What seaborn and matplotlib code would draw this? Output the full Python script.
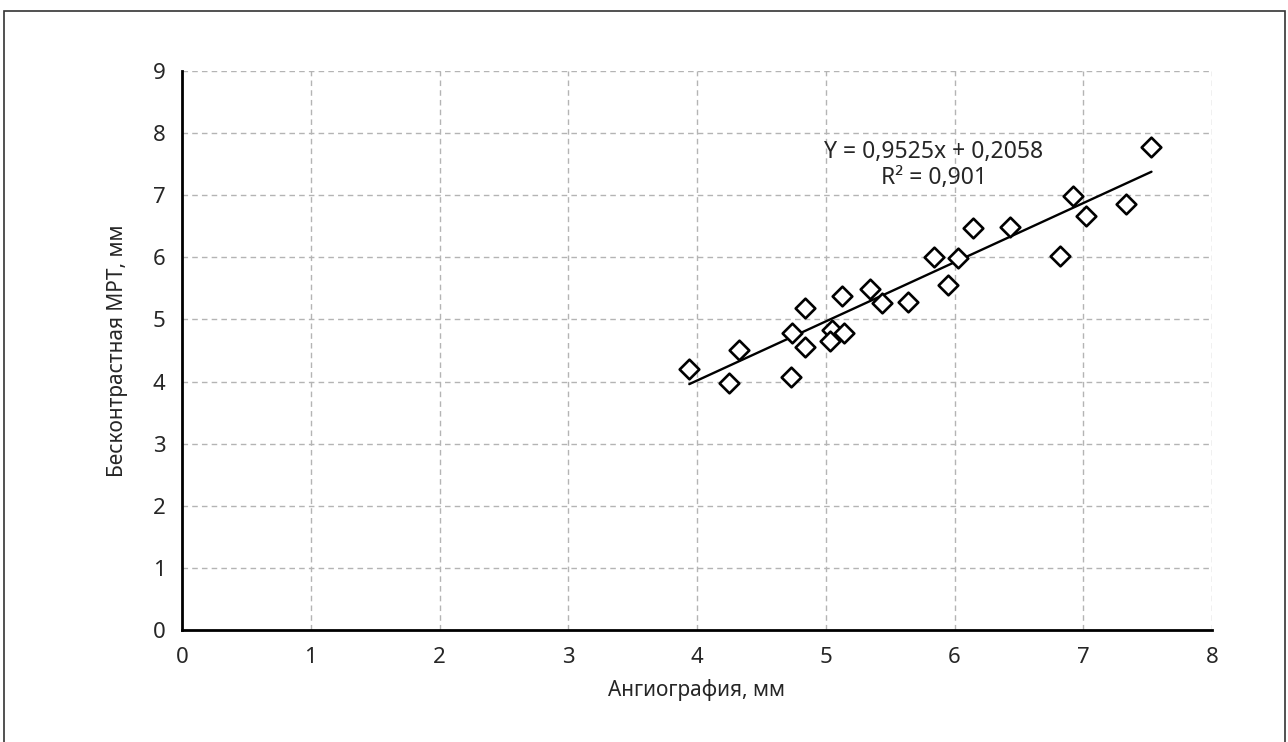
import numpy as np
import pandas as pd
import matplotlib
matplotlib.use('Agg')
import matplotlib.pyplot as plt
from matplotlib.patches import Rectangle
import seaborn as sns

# values
angio_mm = [3.94, 4.25, 4.33, 4.74, 4.73, 4.84, 4.84, 5.05, 5.03, 5.14, 5.13, 5.34,
            5.44, 5.64, 5.95, 5.84, 6.03, 6.14, 6.43, 6.82, 6.92, 7.02, 7.33, 7.53]
mrt_mm = [4.20, 3.98, 4.51, 4.78, 4.08, 5.18, 4.56, 4.83, 4.66, 4.78, 5.38, 5.49,
          5.26, 5.28, 5.56, 6.00, 5.99, 6.48, 6.49, 6.02, 6.99, 6.67, 6.86, 7.77]
slope = 0.9525
intercept = 0.2058
r2 = 0.901
x_ticks = [0, 1, 2, 3, 4, 5, 6, 7, 8]
y_ticks = [0, 1, 2, 3, 4, 5, 6, 7, 8, 9]

df = pd.DataFrame({'angio': angio_mm, 'mrt': mrt_mm})

sns.set_style('white')
plt.rcParams['font.family'] = ['Noto Sans', 'DejaVu Sans']

fig = plt.figure(figsize=(12.88, 7.42), dpi=100)
ax = fig.add_axes([182 / 1288, 1 - 630 / 742, 1030 / 1288, 559 / 742])

# trend line from the printed equation, over the range of the data
line_x = np.array([df['angio'].min(), df['angio'].max()])
trend = pd.DataFrame({'x': line_x, 'y': slope * line_x + intercept})
sns.lineplot(data=trend, x='x', y='y', color='black', linewidth=1.7, ax=ax, zorder=3)

sns.scatterplot(data=df, x='angio', y='mrt', marker='D', s=100,
                facecolor='white', edgecolor='black', linewidth=1.9, ax=ax, zorder=4)

ax.set_xlim(0, 8)
ax.set_ylim(0, 9)
ax.set_xticks(x_ticks)
ax.set_yticks(y_ticks)
ax.grid(True, color='#b4b4b4', linestyle=(0, (4, 3)), linewidth=1)
ax.set_axisbelow(True)

for side in ['top', 'right']:
    ax.spines[side].set_visible(False)
for side in ['left', 'bottom']:
    ax.spines[side].set_color('black')
    ax.spines[side].set_linewidth(2)

ax.tick_params(axis='both', length=0, labelsize=16)
ax.tick_params(axis='x', pad=12)
ax.tick_params(axis='y', pad=12)
ax.set_xlabel('Ангиография, мм', fontsize=15, labelpad=8)
ax.set_ylabel('Бесконтрастная МРТ, мм', fontsize=15, labelpad=18)

ax.text(5.84, 7.70, 'Y = 0,9525x + 0,2058', ha='center', va='center', fontsize=16.5)
ax.text(5.84, 7.28, 'R² = 0,901', ha='center', va='center', fontsize=16.5)

# thin frame around the whole picture
fig.add_artist(Rectangle((4 / 1288, -0.02), 1281 / 1288, 1.02 - 11 / 742,
                         transform=fig.transFigure, fill=False,
                         edgecolor='#333333', linewidth=1.2))

fig.savefig('out.png', dpi=100)
